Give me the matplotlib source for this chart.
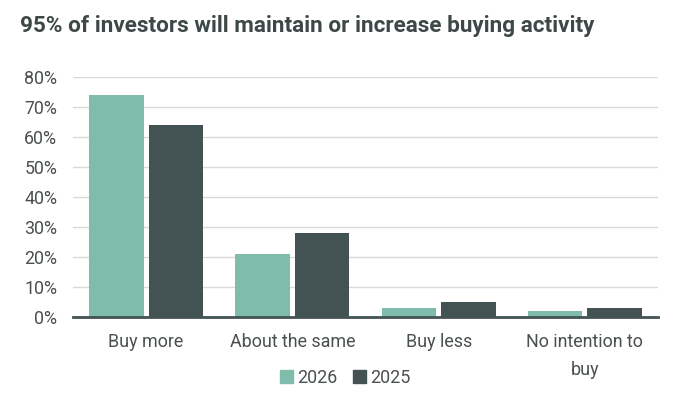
import matplotlib
matplotlib.use("Agg")
import matplotlib.pyplot as plt
import numpy as np
from matplotlib.patches import Patch

categories = ["Buy more", "About the same", "Buy less", "No intention to\nbuy"]
series_names = ["2026", "2025"]
values_2026 = [74, 21, 3, 2]
values_2025 = [64, 28, 5, 3]
yticks = [0, 10, 20, 30, 40, 50, 60, 70, 80]

c26 = "#7fbcab"
c25 = "#435353"
text_c = "#4a4f4f"

plt.rcParams['font.family'] = ['Roboto', 'DejaVu Sans']

fig = plt.figure(figsize=(6.74, 3.98), dpi=100)
ax = fig.add_axes([0.1083, 0.2023, 0.9763 - 0.1083, 0.8073 - 0.2023])

x = np.arange(len(categories))
w = 0.372
off = 0.203
ax.bar(x - off, values_2026, width=w, color=c26, label=series_names[0], zorder=3)
ax.bar(x + off, values_2025, width=w, color=c25, label=series_names[1], zorder=3)

ax.set_xlim(-0.5, 3.5)
ax.set_ylim(0, 80)
ax.set_yticks(yticks)
ax.set_yticklabels([f"{t}%" for t in yticks], fontsize=12.8, color=text_c)
ax.set_xticks(x)
ax.set_xticklabels(categories, fontsize=12.9, color=text_c, linespacing=1.7)
ax.tick_params(axis='both', length=0)
ax.tick_params(axis='y', pad=11.3)
ax.tick_params(axis='x', pad=11.5)
ax.yaxis.grid(True, color="#d9d9d9", linewidth=1, zorder=0)
for s in ["top", "right", "left"]:
    ax.spines[s].set_visible(False)
ax.spines["bottom"].set_color(c25)
ax.spines["bottom"].set_linewidth(2)
ax.spines["bottom"].set_zorder(4)

fig.text(20 / 674, 1 - 32.3 / 398, "95% of investors will maintain or increase buying activity",
         fontsize=16.2, fontweight="bold", color="#3f4848", va="baseline", ha="left")

handles = [Patch(color=c26), Patch(color=c25)]
fig.legend(handles, series_names, loc="center", bbox_to_anchor=(345 / 674, 1 - 378 / 398),
           ncol=2, frameon=False, fontsize=12.9, handlelength=0.75, handleheight=0.75,
           handletextpad=0.2, columnspacing=0.9, labelcolor=text_c)

fig.savefig("out.png", dpi=100)
